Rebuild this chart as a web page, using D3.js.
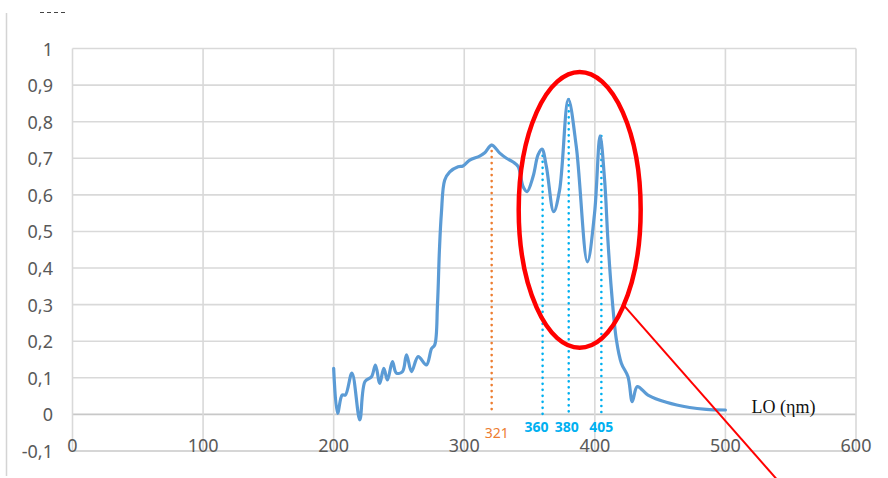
<!DOCTYPE html>
<html>
<head>
<meta charset="utf-8">
<script src="https://cdn.jsdelivr.net/npm/d3@7/dist/d3.min.js"></script>
<style>
  html, body { margin: 0; padding: 0; background: #fff; }
  svg { display: block; }
</style>
</head>
<body>
<script>
// ---- data ----
const wavelength = [200,203,206.5,209,214,220,224,229,232,235.3,238.4,241.2,245,248,252.7,255.8,259.6,264.7,271,275,277.4,279.5,281,282.5,285,288.9,295.3,299,304.2,311.8,315.7,321,327.2,332.3,337.4,341.3,345.1,348.1,352.7,356.5,359.5,362.9,368.5,373,379.7,385.8,394.3,399.8,404,407.5,410,412.7,416.5,420.3,425.4,428.7,432.5,440.7,454.8,472.6,485.4,500];
const absorbance = [0.126,0.003,0.053,0.053,0.113,-0.015,0.09,0.103,0.135,0.085,0.126,0.094,0.144,0.113,0.117,0.163,0.117,0.158,0.135,0.18,0.19,0.30,0.45,0.55,0.64,0.663,0.677,0.679,0.695,0.706,0.715,0.736,0.714,0.70,0.69,0.677,0.622,0.609,0.65,0.709,0.725,0.677,0.554,0.613,0.861,0.732,0.417,0.55,0.761,0.64,0.477,0.34,0.204,0.14,0.103,0.035,0.076,0.053,0.033,0.019,0.014,0.012];

const peakX = [321, 360, 380, 405];
const peakY = [0.736, 0.723, 0.861, 0.761];
const peakLabels = ["321", "360", "380", "405"];
const peakLabelShift = [5, -6, -2, 0];

const xTicks = [0, 100, 200, 300, 400, 500, 600];
const yTicks = [-0.1, 0, 0.1, 0.2, 0.3, 0.4, 0.5, 0.6, 0.7, 0.8, 0.9, 1];
const axisTitle = "LO (ηm)";

// annotation (data coords)
const ellipseCenter = [388.4, 0.559];
const ellipseRadius = [46.7, 0.377];
const pointerFrom = [422.7, 0.296];
const pointerTo = [540, -0.18];

// ---- chart ----
const W = 888, H = 478;
const svg = d3.select("body").append("svg").attr("width", W).attr("height", H);

const x = d3.scaleLinear().domain([0, 600]).range([72.5, 856]);
const y = d3.scaleLinear().domain([-0.1, 1]).range([451, 48.5]);

// outer fragments
svg.append("line").attr("x1", 6.5).attr("x2", 6.5).attr("y1", 13).attr("y2", 476)
  .attr("stroke", "#d4d4d4").attr("stroke-width", 1.5);
svg.append("line").attr("x1", 40).attr("x2", 68).attr("y1", 12.5).attr("y2", 12.5)
  .attr("stroke", "#444").attr("stroke-width", 1).attr("stroke-dasharray", "4 3");

// grid
const grid = svg.append("g");
grid.selectAll("line.h").data(yTicks).join("line")
  .attr("x1", x(0)).attr("x2", x(600))
  .attr("y1", d => y(d)).attr("y2", d => y(d))
  .attr("stroke", d => (d === 0 || d === -0.1) ? "#c8c8c8" : "#d9d9d9")
  .attr("stroke-width", 1.6);
grid.selectAll("line.v").data(xTicks).join("line")
  .attr("x1", d => x(d)).attr("x2", d => x(d))
  .attr("y1", y(1)).attr("y2", y(-0.1))
  .attr("stroke", "#d9d9d9").attr("stroke-width", 1.6);

// y labels
svg.append("g").selectAll("text").data(yTicks).join("text")
  .attr("x", 53).attr("y", d => y(d))
  .attr("text-anchor", "end").attr("dominant-baseline", "central")
  .attr("font-family", "'Noto Sans', sans-serif").attr("font-size", 18)
  .attr("fill", "#595959")
  .text(d => d3.format(".1~f")(d).replace(".", ",").replace("\u2212", "-"));

// x labels
svg.append("g").selectAll("text").data(xTicks).join("text")
  .attr("x", d => x(d)).attr("y", 452)
  .attr("text-anchor", "middle")
  .attr("font-family", "'Noto Sans', sans-serif").attr("font-size", 18)
  .attr("fill", "#595959")
  .text(d => d);

// peak markers
const peaks = peakX.map((v, i) => ({x: v, y: peakY[i], label: peakLabels[i], dx: peakLabelShift[i], first: i === 0}));
svg.append("g").selectAll("line").data(peaks).join("line")
  .attr("x1", d => x(d.x)).attr("x2", d => x(d.x))
  .attr("y1", d => y(d.y)).attr("y2", y(0))
  .attr("stroke", d => d.first ? "#ED7D31" : "#00B0F0")
  .attr("stroke-width", 2.6).attr("stroke-linecap", "round")
  .attr("stroke-dasharray", "0 6");

svg.append("g").selectAll("text").data(peaks).join("text")
  .attr("x", d => x(d.x) + d.dx).attr("y", d => d.first ? 438 : 432)
  .attr("text-anchor", "middle")
  .attr("font-family", "'Noto Sans', sans-serif").attr("font-size", 14)
  .attr("font-weight", d => d.first ? "normal" : "bold")
  .attr("fill", d => d.first ? "#ED7D31" : "#00B0F0")
  .text(d => d.label);

// spectrum line
const pts = wavelength.map((w, i) => [w, absorbance[i]]);
const line = d3.line().x(d => x(d[0])).y(d => y(d[1])).curve(d3.curveCatmullRom.alpha(0.5));
svg.append("path").datum(pts)
  .attr("d", line).attr("fill", "none")
  .attr("stroke", "#5B9BD5").attr("stroke-width", 3.2)
  .attr("stroke-linejoin", "round").attr("stroke-linecap", "round");

// axis title
svg.append("text").attr("x", x(520)).attr("y", y(0.021))
  .attr("font-family", "'Liberation Serif', 'Times New Roman', serif").attr("font-size", 18)
  .attr("fill", "#111").attr("dominant-baseline", "central")
  .text(axisTitle);

// annotation ellipse and pointer
svg.append("ellipse")
  .attr("cx", x(ellipseCenter[0])).attr("cy", y(ellipseCenter[1]))
  .attr("rx", x(ellipseCenter[0] + ellipseRadius[0]) - x(ellipseCenter[0]))
  .attr("ry", y(ellipseCenter[1]) - y(ellipseCenter[1] + ellipseRadius[1]))
  .attr("fill", "none").attr("stroke", "#FF0000").attr("stroke-width", 4.5);
svg.append("line")
  .attr("x1", x(pointerFrom[0])).attr("y1", y(pointerFrom[1]))
  .attr("x2", x(pointerTo[0])).attr("y2", y(pointerTo[1]))
  .attr("stroke", "#FF0000").attr("stroke-width", 2);
</script>
</body>
</html>
